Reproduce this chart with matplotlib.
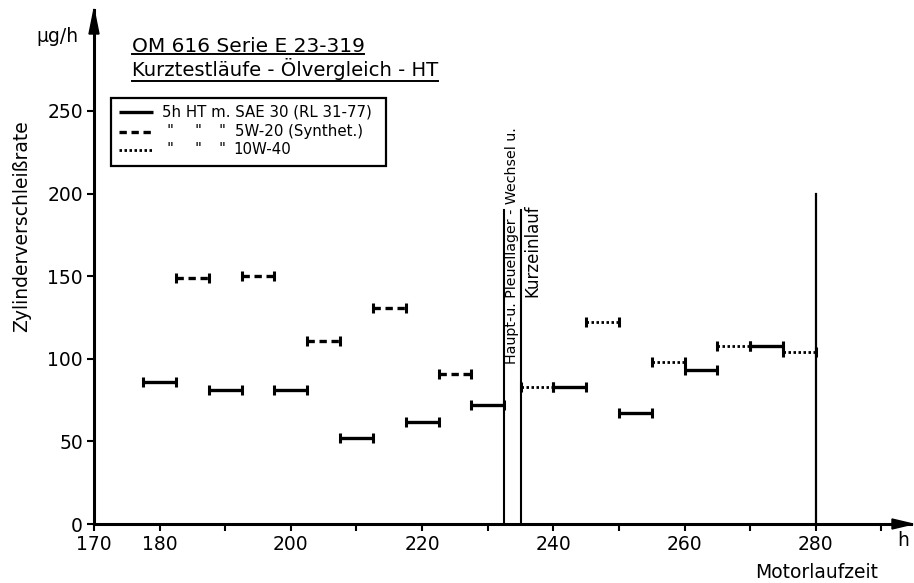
import matplotlib
matplotlib.use("Agg")
import matplotlib.pyplot as plt
from matplotlib.lines import Line2D
from matplotlib.patches import Polygon, Rectangle

# --- data (h = motor run time, y = wear rate in ug/h) ---
solid_x0 = [177.5, 187.5, 197.5, 207.5, 217.5, 227.5, 240, 250, 260, 270]
solid_x1 = [182.5, 192.5, 202.5, 212.5, 222.5, 232.5, 245, 255, 265, 275]
solid_y = [86, 81, 81, 52, 62, 72, 83, 67, 93, 108]

dashed_x0 = [182.5, 192.5, 202.5, 212.5, 222.5]
dashed_x1 = [187.5, 197.5, 207.5, 217.5, 227.5]
dashed_y = [149, 150, 111, 131, 91]

dotted_x0 = [235, 245, 255, 265, 275]
dotted_x1 = [240, 250, 260, 270, 280]
dotted_y = [83, 122, 98, 108, 104]

break_x = [232.5, 235]
break_top = 190
end_x = 280
end_top = 200

x_labels = [170, 180, 200, 220, 240, 260, 280]
x_minor = [190, 210, 230, 250, 270, 290]
y_ticks = [0, 50, 100, 150, 200, 250]

W, H = 914, 583


def fx(px):
    return px / W


def fy(py):
    return 1 - py / H


plt.rcParams["font.family"] = "DejaVu Sans"

fig = plt.figure(figsize=(W / 100, H / 100), dpi=100)
y0_px, top_px = 524, 10
ax = fig.add_axes([fx(94), fy(y0_px), fx(911) - fx(94), fy(top_px) - fy(y0_px)])
ax.set_xlim(170, 294.5)
ax.set_ylim(0, (y0_px - top_px) / 1.652)

for s in ["top", "right"]:
    ax.spines[s].set_visible(False)
for s in ["left", "bottom"]:
    ax.spines[s].set_linewidth(2.2)

ax.set_xticks(x_labels)
ax.set_xticks(x_minor, minor=True)
ax.set_yticks(y_ticks)
ax.tick_params(which="both", direction="out", length=5, width=1.5, labelsize=13.5, pad=3)

cap = dict(marker="|", markersize=6.5, markeredgewidth=2.2, color="black")

# segments
for a, b, y in zip(solid_x0, solid_x1, solid_y):
    ax.plot([a, b], [y, y], lw=2.4, solid_capstyle="butt", **cap)
for a, b, y in zip(dashed_x0, dashed_x1, dashed_y):
    ax.plot([a, b], [y, y], lw=2.4, ls=(0, (2.2, 1.4)), dash_capstyle="butt", **cap)
for a, b, y in zip(dotted_x0, dotted_x1, dotted_y):
    ax.plot([a, b], [y, y], lw=2.0, ls=(0, (0.9, 0.9)), dash_capstyle="butt", **cap)

# vertical marks
for bx in break_x:
    ax.plot([bx, bx], [0, break_top], color="black", lw=1.5)
ax.plot([end_x, end_x], [0, end_top], color="black", lw=1.6)

ax.text(233.75, 168.5, "Haupt-u. Pleuellager - Wechsel u.", rotation=90,
        ha="center", va="center", fontsize=10.2)
ax.text(236.8, 165.5, "Kurzeinlauf", rotation=90, ha="center", va="center", fontsize=12)

# axis arrows
fig.add_artist(Polygon([(fx(89), fy(34)), (fx(94), fy(9)), (fx(99), fy(34))],
                       closed=True, color="black", transform=fig.transFigure))
fig.add_artist(Polygon([(fx(892), fy(y0_px - 5)), (fx(913), fy(y0_px)), (fx(892), fy(y0_px + 5))],
                       closed=True, color="black", transform=fig.transFigure))

# axis texts
fig.text(fx(78), fy(37), "µg/h", ha="right", va="center", fontsize=13.5)
fig.text(fx(22), fy(226), "Zylinderverschleißrate", rotation=90,
         ha="center", va="center", fontsize=13.5)
fig.text(fx(903), fy(541), "h", ha="center", va="center", fontsize=13.5)
fig.text(fx(878), fy(573), "Motorlaufzeit", ha="right", va="center", fontsize=13.5)

# title with underlines
fig.text(fx(132), fy(51.5), "OM 616 Serie E 23-319", ha="left", va="baseline", fontsize=14.5)
fig.text(fx(132), fy(75.5), "Kurztestläufe - Ölvergleich - HT", ha="left", va="baseline", fontsize=14.1)
fig.add_artist(Line2D([fx(132), fx(364)], [fy(54), fy(54)], color="black", lw=1.4))
fig.add_artist(Line2D([fx(132), fx(438)], [fy(81), fy(81)], color="black", lw=1.4))

# hand drawn legend box
fig.add_artist(Rectangle((fx(111), fy(166)), fx(386) - fx(111), fy(98) - fy(166),
                         fill=False, lw=1.6, color="black", transform=fig.transFigure))
rows = [111.7, 131.7, 150]
styles = [dict(lw=2.4), dict(lw=2.4, ls=(0, (2.2, 1.4))), dict(lw=2.0, ls=(0, (0.9, 0.9)))]
for ry, st in zip(rows, styles):
    fig.add_artist(Line2D([fx(119), fx(153)], [fy(ry), fy(ry)], color="black",
                          solid_capstyle="butt", dash_capstyle="butt", **st))
fs_leg = 10.8
fig.text(fx(162), fy(rows[0]), "5h HT m. SAE 30 (RL 31-77)", ha="left", va="center", fontsize=fs_leg)
for dx in [170, 198, 222]:
    fig.text(fx(dx), fy(rows[1]), '"', ha="center", va="center", fontsize=fs_leg)
    fig.text(fx(dx), fy(rows[2]), '"', ha="center", va="center", fontsize=fs_leg)
fig.text(fx(235), fy(rows[1]), "5W-20 (Synthet.)", ha="left", va="center", fontsize=fs_leg)
fig.text(fx(233), fy(rows[2]), "10W-40", ha="left", va="center", fontsize=fs_leg)

fig.savefig("out.png", dpi=100)
